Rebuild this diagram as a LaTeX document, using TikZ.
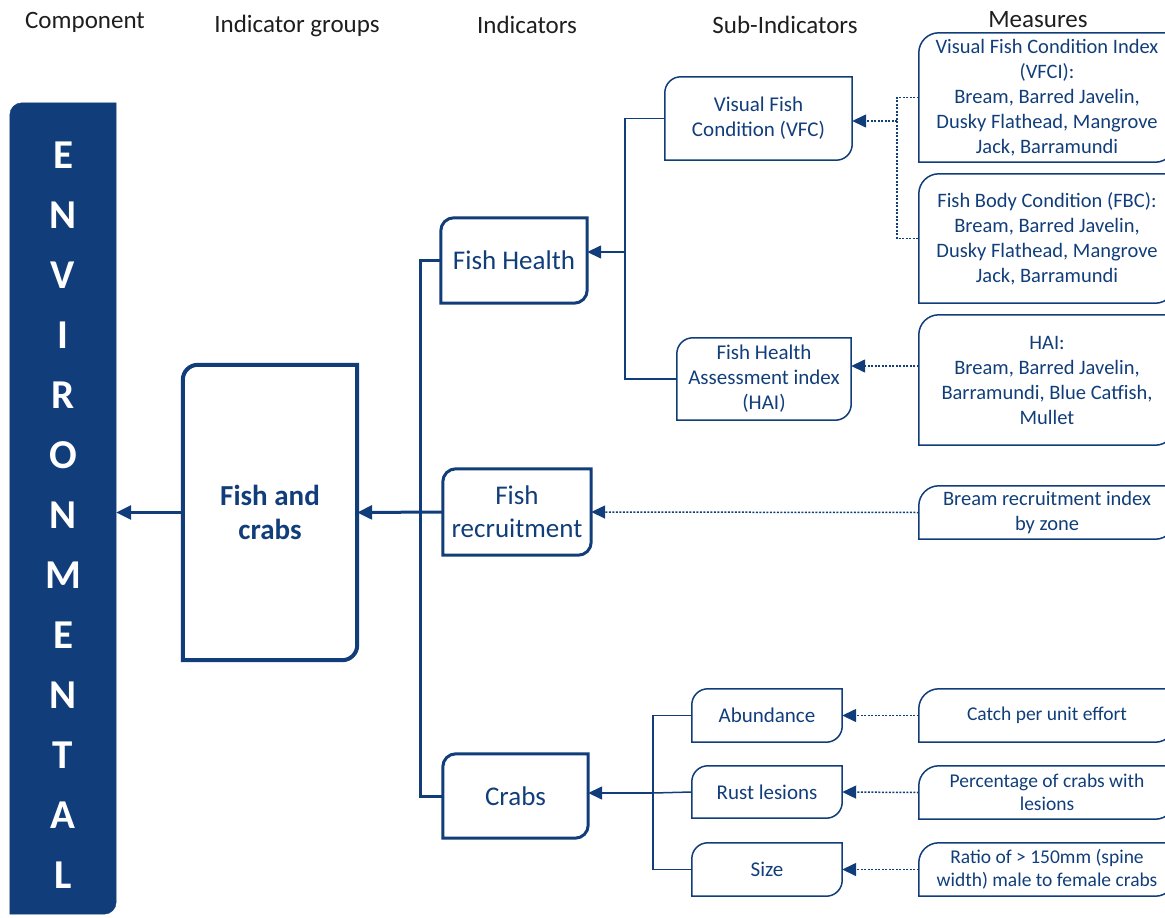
\documentclass[tikz,border=0pt]{standalone}
\usepackage{fontspec}
\setmainfont{Carlito}
\usetikzlibrary{arrows.meta,positioning,calc}
\definecolor{navy}{RGB}{17,62,122}
\definecolor{headgrey}{RGB}{30,30,30}
% border with rounded top-left and bottom-right corners
\newcommand{\tlbr}[3][]{%
  \draw[navy,#1] (#2.south west) -- ([yshift=-#3]#2.north west)
    arc[start angle=180,end angle=90,radius=#3] -- (#2.north east)
    -- ([yshift=#3]#2.south east)
    arc[start angle=0,end angle=-90,radius=#3] -- cycle;}
\tikzset{
    box/.style={inner sep=0pt, align=center, text=navy},
    groupbox/.style={box, font=\fontsize{29}{34}\selectfont\bfseries},
    indbox/.style={box, font=\fontsize{27}{33}\selectfont},
    subbox/.style={box, font=\fontsize{21}{25}\selectfont},
    measbox/.style={box, font=\fontsize{20.5}{25}\selectfont,
        minimum width=256pt},
    smallmeas/.style={measbox, font=\fontsize{19.5}{23}\selectfont},
    header/.style={text=headgrey, font=\fontsize{25}{25}\selectfont},
    barletter/.style={text=white, font=\fontsize{41}{41}\selectfont\bfseries},
    thickarr/.style={navy, line width=3pt, -{Triangle[length=15pt,width=14pt]}},
    thickline/.style={navy, line width=3pt},
    thinarr/.style={navy, line width=1.5pt, -{Triangle[length=14pt,width=13pt]}},
    thinline/.style={navy, line width=1.5pt},
    dotarr/.style={navy, line width=1.5pt, dash pattern=on 2pt off 1.5pt,
        -{Triangle[length=14pt,width=13pt]}},
    dotline/.style={navy, line width=1.5pt, dash pattern=on 2pt off 1.5pt},
}

\begin{document}
\begin{tikzpicture}[x=1pt, y=1pt]
 \useasboundingbox (0,0) rectangle (1165,-918);
 \clip (0,0) rectangle (1165,-918);

 % column headers
 \node[header] (hcomp) at (85,-22) {Component};
 \node[header] (hgroup) at (297,-26) {Indicator groups};
 \node[header] (hind) at (527,-25) {Indicators};
 \node[header] (hsub) at (785,-25) {Sub-Indicators};
 \node[header] (hmeas) at (1038,-20) {Measures};

 % component bar
 \node[box, minimum width=106pt, minimum height=811pt] (bar) at (63,-508.5) {};
 \tlbr[fill=navy]{bar}{12pt}
 \foreach \ch [count=\i] in {E,N,V,I,R,O,N,M,E,N,T,A,L}
   \node[barletter] (l\i) at (63,{-155-60*(\i-1)}) {\ch};

 % indicator group
 \node[groupbox, minimum width=174pt, minimum height=295pt] (fishcrabs) at (270,-512.5) {Fish and\\crabs};
 \tlbr[line width=4pt]{fishcrabs}{15pt}

 % indicators
 \node[indbox, minimum width=146pt, minimum height=85pt] (fishhealth) at (514,-260.5) {Fish Health};
 \node[indbox, minimum width=148pt, minimum height=86pt] (recruit) at (517,-512) {Fish\\recruitment};
 \node[indbox, minimum width=145pt, minimum height=84pt] (crabs) at (515.5,-796) {Crabs};
 \foreach \n in {fishhealth,recruit,crabs}
   {\tlbr[line width=3pt]{\n}{13pt}}

 % sub-indicators
 \node[subbox, minimum width=187pt, minimum height=83pt] (vfc) at (758.5,-118.5) {Visual Fish\\Condition (VFC)};
 \node[subbox, minimum width=174pt, minimum height=82pt] (hai) at (764,-379) {Fish Health\\Assessment index\\(HAI)};
 \node[subbox, minimum width=150pt, minimum height=53pt] (abund) at (767,-715.5) {Abundance};
 \node[subbox, minimum width=150pt, minimum height=52pt] (rust) at (767,-792) {Rust lesions};
 \node[subbox, minimum width=150pt, minimum height=53pt] (size) at (767,-869.5) {Size};
 \foreach \n in {vfc,hai,abund,rust,size}
   {\tlbr[line width=1.5pt]{\n}{16pt}}

 % measures
 \node[measbox, minimum height=129pt] (vfci) at (1047,-97.5) {Visual Fish Condition Index\\(VFCI):\\Bream, Barred Javelin,\\Dusky Flathead, Mangrove\\Jack, Barramundi};
 \node[measbox, minimum height=129pt] (fbc) at (1047,-238.5) {Fish Body Condition (FBC):\\Bream, Barred Javelin,\\Dusky Flathead, Mangrove\\Jack, Barramundi};
 \node[measbox, minimum height=130pt] (haim) at (1047,-380) {HAI:\\Bream, Barred Javelin,\\Barramundi, Blue Catfish,\\Mullet};
 \node[measbox, minimum height=53pt] (bream) at (1047,-512.5) {Bream recruitment index\\by zone};
 \node[smallmeas, minimum height=53pt] (catch) at (1047,-715.5) {Catch per unit effort};
 \node[smallmeas, minimum height=53pt] (perc) at (1047,-792.5) {Percentage of crabs with\\lesions};
 \node[smallmeas, minimum height=53pt] (ratio) at (1047,-869.5) {Ratio of > 150mm (spine\\width) male to female crabs};
 \foreach \n in {vfci,fbc,haim,bream,catch,perc,ratio}
   {\tlbr[line width=1.5pt]{\n}{20pt}}

 % indicator level connectors
 \coordinate (trunk) at (420,-512);
 \draw[thickarr] (fishcrabs.west) -- (fishcrabs.west -| bar.east);
 \draw[thickarr] (recruit.west) -- (fishcrabs.east);
 \draw[thickline] (fishhealth.west) -| (trunk) |- (crabs.west);

 % fish health branch
 \coordinate (fhj) at (625,-252);
 \draw[thinline] (vfc.west) -| (fhj) |- (hai.west);
 \draw[thinarr] (fhj) -- (fhj -| fishhealth.east);

 % crabs branch
 \coordinate (cj) at (653,-793);
 \draw[thinline] (abund.west) -| (cj) |- (size.west);
 \draw[thinline] (rust.west) -- (cj);
 \draw[thinarr] (cj) -- (cj -| crabs.east);

 % measures to sub-indicators
 \coordinate (vj) at (897,-121);
 \draw[dotline] (vfci.west) -| (vj) |- (fbc.west);
 \draw[dotarr] (vj) -- (vj -| vfc.east);
 \draw[dotarr] ([yshift=14pt]haim.west) -- ([yshift=14pt]haim.west -| hai.east);
 \draw[dotarr] (bream.west) -- (recruit.east);
 \draw[dotarr] (catch.west) -- (abund.east);
 \draw[dotarr] (perc.west) -- (rust.east);
 \draw[dotarr] (ratio.west) -- (size.east);
\end{tikzpicture}
\end{document}
